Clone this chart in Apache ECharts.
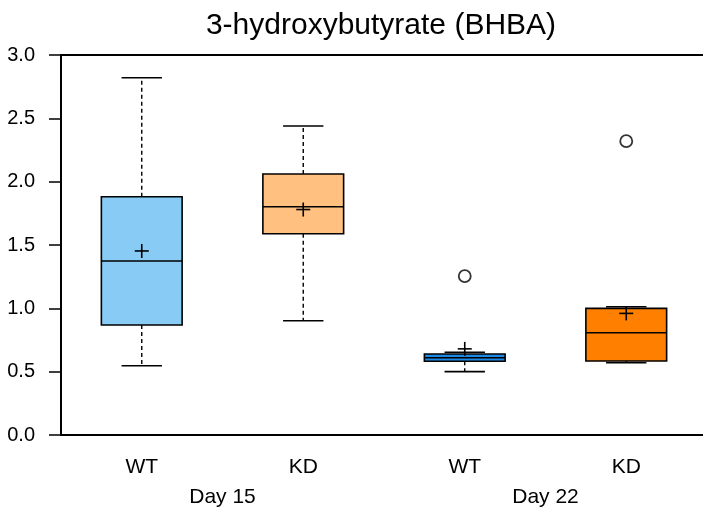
<!DOCTYPE html>
<html>
<head>
<meta charset="utf-8">
<script src="https://cdn.jsdelivr.net/npm/echarts@6/dist/echarts.min.js"></script>
<style>
  html, body { margin: 0; padding: 0; background: #fff; }
  #chart { width: 703px; height: 514px; }
</style>
</head>
<body>
<div id="chart"></div>
<script>
// data
var categories = ['WT', 'KD', 'WT', 'KD'];
var groups = ['Day 15', 'Day 22'];
var whiskerLow = [0.547, 0.902, 0.50, 0.57];
var q1 = [0.868, 1.589, 0.582, 0.584];
var median = [1.374, 1.802, 0.61, 0.807];
var q3 = [1.881, 2.06, 0.639, 1.0];
var whiskerHigh = [2.82, 2.439, 0.653, 1.013];
var means = [1.453, 1.78, 0.68, 0.96];
var outliers = [[2, 1.255], [3, 2.32]];
var boxColors = ['#88ccf6', '#ffc080', '#1e88e5', '#ff8000'];

var boxData = [];
for (var i = 0; i < categories.length; i++) {
  boxData.push([i, whiskerLow[i], q1[i], median[i], q3[i], whiskerHigh[i], means[i]]);
}

function renderBox(params, api) {
  var idx = api.value(0);
  var band = api.size([1, 0])[0];
  var half = band * 0.25;
  var capHalf = band * 0.125;
  var pLow = api.coord([idx, api.value(1)]);
  var pQ1 = api.coord([idx, api.value(2)]);
  var pMed = api.coord([idx, api.value(3)]);
  var pQ3 = api.coord([idx, api.value(4)]);
  var pHigh = api.coord([idx, api.value(5)]);
  var pMean = api.coord([idx, api.value(6)]);
  var cx = pMed[0];
  var stroke = { stroke: '#000', lineWidth: 1.6 };
  var dashed = { stroke: '#000', lineWidth: 1.4, lineDash: [4, 3] };
  var m = 7;
  return {
    type: 'group',
    children: [
      { type: 'line', shape: { x1: cx, y1: pQ3[1], x2: cx, y2: pHigh[1] }, style: dashed },
      { type: 'line', shape: { x1: cx, y1: pQ1[1], x2: cx, y2: pLow[1] }, style: dashed },
      { type: 'line', shape: { x1: cx - capHalf, y1: pHigh[1], x2: cx + capHalf, y2: pHigh[1] }, style: stroke },
      { type: 'line', shape: { x1: cx - capHalf, y1: pLow[1], x2: cx + capHalf, y2: pLow[1] }, style: stroke },
      { type: 'rect', shape: { x: cx - half, y: pQ3[1], width: half * 2, height: pQ1[1] - pQ3[1] },
        style: { fill: boxColors[idx], stroke: '#000', lineWidth: 1.6 } },
      { type: 'line', shape: { x1: cx - half, y1: pMed[1], x2: cx + half, y2: pMed[1] }, style: stroke },
      { type: 'line', shape: { x1: cx - m, y1: pMean[1], x2: cx + m, y2: pMean[1] }, style: stroke },
      { type: 'line', shape: { x1: cx, y1: pMean[1] - m, x2: cx, y2: pMean[1] + m }, style: stroke }
    ]
  };
}

var chart = echarts.init(document.getElementById('chart'), null, { renderer: 'canvas' });
var font = 'Liberation Sans, Arial, sans-serif';

chart.setOption({
  animation: false,
  backgroundColor: '#fff',
  title: {
    text: '3-hydroxybutyrate (BHBA)',
    left: 376, top: 6, textAlign: 'center',
    textStyle: { fontFamily: font, fontSize: 30, fontWeight: 'normal', color: '#000' }
  },
  grid: {
    left: 61, top: 55, bottom: 79, width: 646,
    outerBoundsMode: 'none',
    containLabel: false,
    show: true, borderColor: '#000', borderWidth: 2, backgroundColor: 'transparent'
  },
  xAxis: [{
    type: 'category',
    data: categories,
    boundaryGap: true,
    axisLine: { lineStyle: { color: '#000', width: 2 } },
    axisTick: { alignWithLabel: true, length: 8, lineStyle: { color: '#000', width: 1.5 } },
    axisLabel: { fontFamily: font, fontSize: 21, color: '#000', margin: 22 },
    splitLine: { show: false }
  }, {
    type: 'category',
    data: groups,
    position: 'bottom',
    boundaryGap: true,
    axisLine: { show: false },
    axisTick: { show: false },
    axisLabel: { fontFamily: font, fontSize: 21, color: '#000', margin: 52 },
    splitLine: { show: false }
  }],
  yAxis: {
    type: 'value',
    min: 0, max: 3, interval: 0.5,
    axisLine: { show: true, lineStyle: { color: '#000', width: 2 } },
    axisTick: { show: true, length: 12, lineStyle: { color: '#000', width: 1.5 } },
    axisLabel: {
      fontFamily: font, fontSize: 20, color: '#000', margin: 26,
      formatter: function (v) { return v.toFixed(1); }
    },
    splitLine: { show: false }
  },
  series: [{
    type: 'custom',
    renderItem: renderBox,
    data: boxData,
    encode: { x: 0, y: [1, 5] },
    z: 3
  }, {
    type: 'scatter',
    data: outliers,
    symbol: 'circle',
    symbolSize: 12,
    itemStyle: { color: '#fff', borderColor: '#000', borderWidth: 1.8 },
    z: 4
  }]
});
</script>
</body>
</html>
